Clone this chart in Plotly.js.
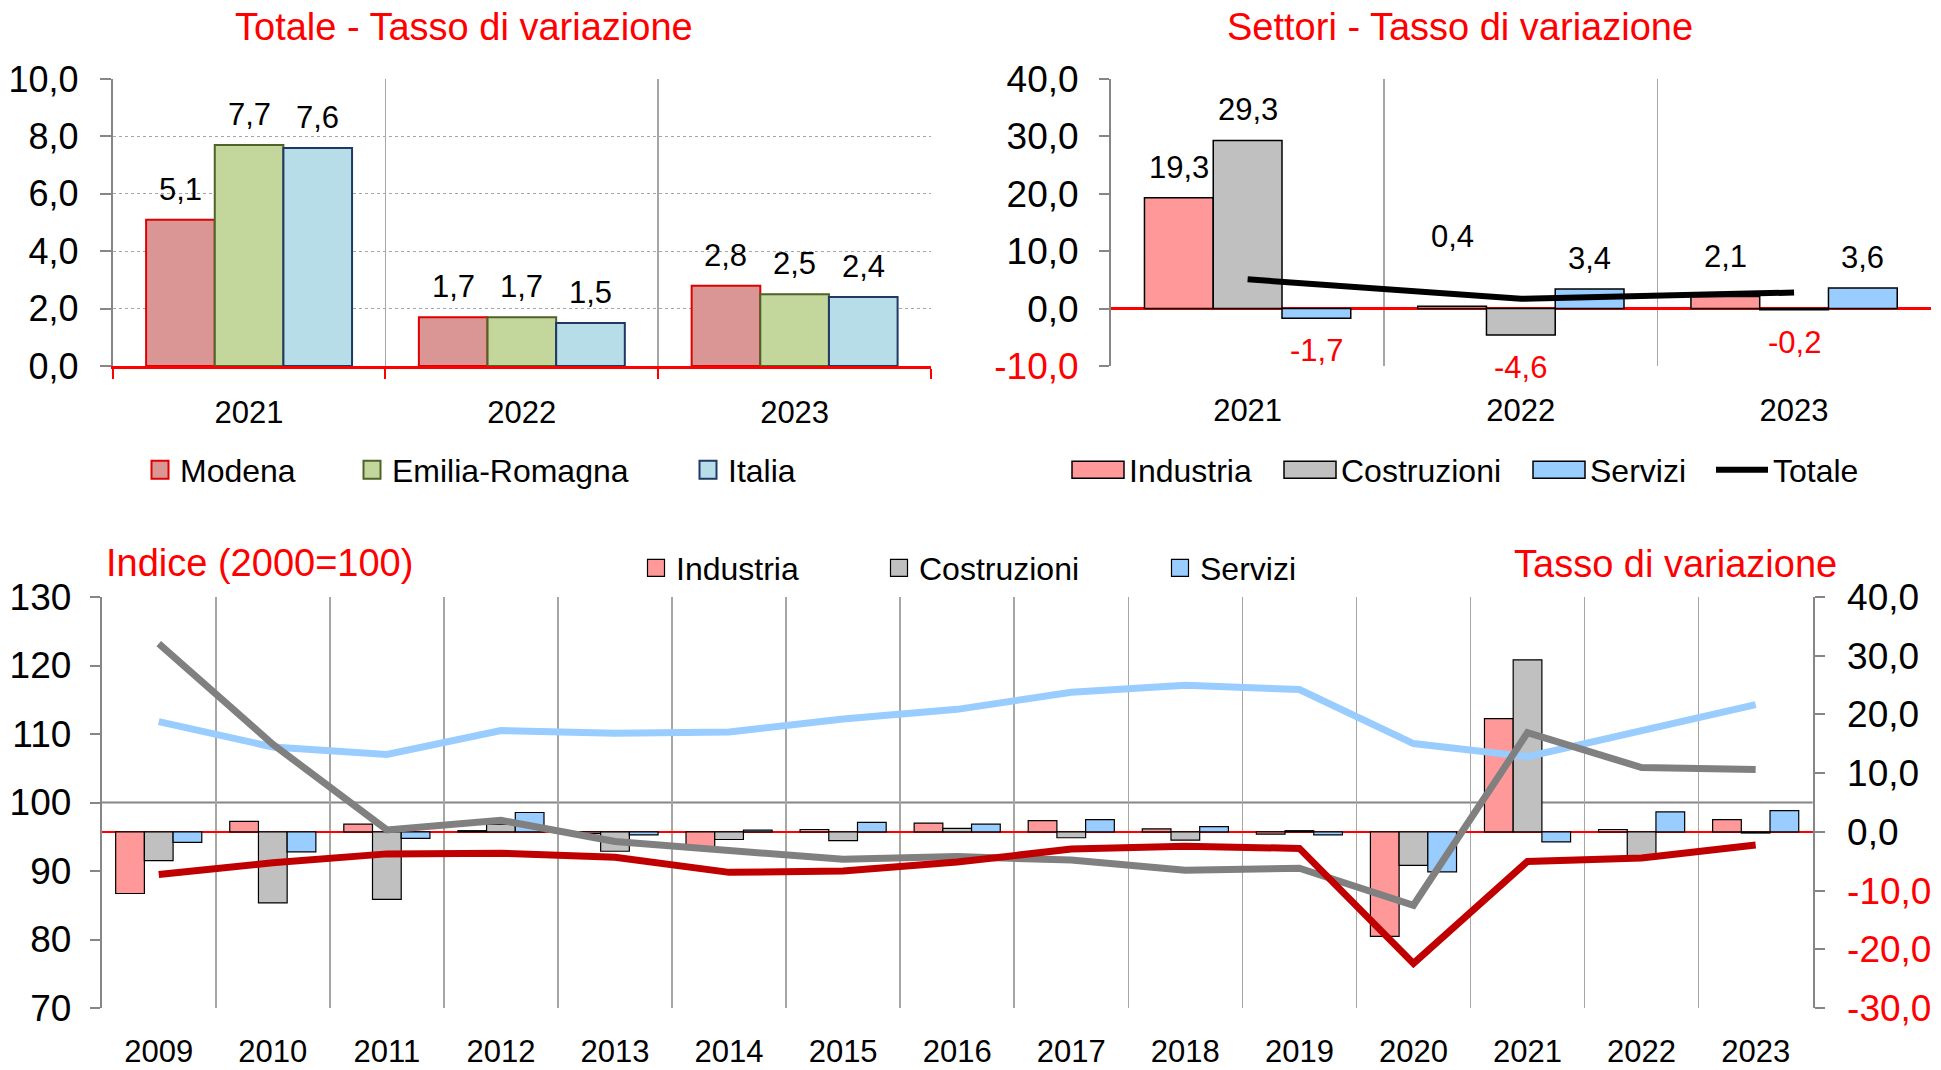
<!DOCTYPE html>
<html>
<head>
<meta charset="utf-8">
<script src="https://cdn.plot.ly/plotly-3.0.1.min.js"></script>
<style>html,body{margin:0;padding:0;background:#fff}#chart{width:1941px;height:1070px}</style>
</head>
<body>
<div id="chart"></div>
<script>
// ---------- DATA ----------
const years3 = ['2021', '2022', '2023'];
const modena = [5.1, 1.7, 2.8];
const emiliaRomagna = [7.7, 1.7, 2.5];
const italia = [7.6, 1.5, 2.4];

const sectorIndustria = [19.3, 0.4, 2.1];
const sectorCostruzioni = [29.3, -4.6, -0.2];
const sectorServizi = [-1.7, 3.4, 3.6];
const sectorTotale = [5.1, 1.7, 2.8];

const years = ['2009', '2010', '2011', '2012', '2013', '2014', '2015', '2016',
               '2017', '2018', '2019', '2020', '2021', '2022', '2023'];
const rateIndustria   = [-10.5, 1.8, 1.3, 0.2, -0.3, -2.5, 0.4, 1.5, 1.9, 0.5, -0.4, -17.8, 19.3, 0.4, 2.1];
const rateCostruzioni = [-4.9, -12.1, -11.5, 1.3, -3.3, -1.3, -1.5, 0.6, -1.0, -1.4, 0.2, -5.7, 29.3, -4.6, -0.2];
const rateServizi     = [-1.8, -3.4, -1.1, 3.3, -0.5, 0.3, 1.6, 1.3, 2.1, 0.9, -0.5, -6.8, -1.7, 3.4, 3.6];
const indexIndustria   = [89.5, 91.2, 92.5, 92.6, 92.0, 89.8, 90.0, 91.3, 93.2, 93.6, 93.3, 76.5, 91.4, 91.9, 93.8];
const indexCostruzioni = [123.2, 108.5, 96.0, 97.4, 94.3, 93.1, 91.7, 92.1, 91.6, 90.1, 90.4, 85.0, 110.2, 105.1, 104.8];
const indexServizi     = [111.8, 108.1, 107.0, 110.5, 110.1, 110.3, 112.2, 113.6, 116.1, 117.1, 116.5, 108.6, 106.7, 110.4, 114.3];

const totalTicks = [0, 2, 4, 6, 8, 10];
const sectorTicks = [-10, 0, 10, 20, 30, 40];
const rateTicks = [-30, -20, -10, 0, 10, 20, 30, 40];
const indexTicks = [70, 80, 90, 100, 110, 120, 130];
const indexBase = 100;

// ---------- STYLE / LAYOUT CONSTANTS ----------
const FONT = 'Liberation Sans, Arial, sans-serif';
const W = 1941, H = 1070;
const RED = '#FF0000';
const AXIS = '#868686';
const GRID = '#A6A6A6';
const BARGAP = 0.245;
const LEFT_PX = [112.7, 931];     // top-left plot area, px
const RIGHT_PX = [1111, 1930.7];  // top-right plot area, px
const BOTTOM_PX = [101.7, 1812.7];
const LABEL_PAD_UP = 11, LABEL_PAD_DOWN = 13;
// extra lift (px) of the Industria labels in the sector chart, moved clear of the Totale line
const industriaLabelLift = [0, 39, 10];
// legend swatch sizes [width, height] in px, per legend
const swatchSize = {
  legend: [17, 18], legend2: [17, 18], legend3: [17, 18],
  legend4: [52, 17], legend5: [52, 17], legend6: [52, 17],
  legend8: [17, 17], legend9: [17, 17], legend10: [17, 17]
};

const fx = p => p / W;
const fy = p => 1 - p / H;
const fmt = v => v.toFixed(1).replace('.', ',');
const colored = v => v < 0 ? '<span style="color:' + RED + '">' + fmt(v) + '</span>' : fmt(v);

function barTrace(name, x, y, fill, edge, edgeW, xa, ya, legend) {
  return {
    type: 'bar', name: name, x: x, y: y, xaxis: xa, yaxis: ya, legend: legend,
    marker: {color: fill, line: {color: edge, width: edgeW}},
    hoverinfo: 'x+y+name'
  };
}

// value labels placed with the axes' own scales (category index, value),
// shifted sideways onto their grouped bar
function valueLabels(cats, values, seriesIdx, nSeries, xa, ya, domainPx, lift) {
  const catW = (domainPx[1] - domainPx[0]) / cats.length;
  const barW = catW * (1 - BARGAP) / nSeries;
  const dx = (seriesIdx - (nSeries - 1) / 2) * barW;
  return values.map((v, i) => ({
    xref: xa, yref: ya, x: i, y: v, text: fmt(v), showarrow: false,
    xanchor: 'center', yanchor: v >= 0 ? 'bottom' : 'top',
    xshift: dx, yshift: v >= 0 ? LABEL_PAD_UP + (lift ? lift[i] : 0) : -LABEL_PAD_DOWN,
    font: {family: FONT, size: 31, color: v >= 0 ? '#000000' : RED}
  }));
}

const traces = [
  // Top-left: Totale
  barTrace('Modena', years3, modena, '#D99694', '#E00000', 2, 'x', 'y', 'legend'),
  barTrace('Emilia-Romagna', years3, emiliaRomagna, '#C3D69B', '#4F6228', 2, 'x', 'y', 'legend2'),
  barTrace('Italia', years3, italia, '#B7DEE8', '#1F3864', 2, 'x', 'y', 'legend3'),
  // Top-right: Settori
  barTrace('Industria', years3, sectorIndustria, '#FF9999', '#000000', 1.5, 'x2', 'y2', 'legend4'),
  barTrace('Costruzioni', years3, sectorCostruzioni, '#C0C0C0', '#000000', 1.5, 'x2', 'y2', 'legend5'),
  barTrace('Servizi', years3, sectorServizi, '#99CCFF', '#000000', 1.5, 'x2', 'y2', 'legend6'),
  {type: 'scatter', mode: 'lines', name: 'Totale', x: years3, y: sectorTotale, xaxis: 'x2', yaxis: 'y2',
   legend: 'legend7', line: {color: '#000000', width: 6}},
  // Bottom: tassi (bars, right axis)
  barTrace('Industria', years, rateIndustria, '#FF9999', '#000000', 1.2, 'x3', 'y3', 'legend8'),
  barTrace('Costruzioni', years, rateCostruzioni, '#C0C0C0', '#000000', 1.2, 'x3', 'y3', 'legend9'),
  barTrace('Servizi', years, rateServizi, '#99CCFF', '#000000', 1.2, 'x3', 'y3', 'legend10'),
  // Bottom: indici (lines, left axis)
  {type: 'scatter', mode: 'lines', name: 'Servizi (indice)', x: years, y: indexServizi, xaxis: 'x3', yaxis: 'y4',
   showlegend: false, line: {color: '#99CCFF', width: 7}},
  {type: 'scatter', mode: 'lines', name: 'Costruzioni (indice)', x: years, y: indexCostruzioni, xaxis: 'x3', yaxis: 'y4',
   showlegend: false, line: {color: '#808080', width: 7}},
  {type: 'scatter', mode: 'lines', name: 'Industria (indice)', x: years, y: indexIndustria, xaxis: 'x3', yaxis: 'y4',
   showlegend: false, line: {color: '#C00000', width: 7}}
];

// ---------- LAYOUT ----------
const tickFontY = {family: FONT, size: 37, color: '#000000'};
const tickFontX = {family: FONT, size: 31, color: '#000000'};
const topDomainY = [fy(366), fy(79)];
const botDomainY = [fy(1008), fy(597)];

function legendAt(xPx, yPx, extra) {
  return Object.assign({
    x: fx(xPx), y: fy(yPx), xanchor: 'left', yanchor: 'middle', orientation: 'h',
    font: {family: FONT, size: 32, color: '#000000'}, bgcolor: 'rgba(0,0,0,0)', borderwidth: 0
  }, extra || {});
}

const titleFont = {family: FONT, size: 38, color: RED};
const annotations = [
  {text: 'Totale - Tasso di variazione', xref: 'paper', yref: 'paper', x: fx(464), y: fy(27),
   xanchor: 'center', yanchor: 'middle', showarrow: false, font: titleFont},
  {text: 'Settori - Tasso di variazione', xref: 'paper', yref: 'paper', x: fx(1460), y: fy(27),
   xanchor: 'center', yanchor: 'middle', showarrow: false, font: titleFont},
  {text: 'Indice (2000=100)', xref: 'paper', yref: 'paper', x: fx(104), y: fy(563),
   xanchor: 'left', yanchor: 'middle', showarrow: false, font: titleFont},
  {text: 'Tasso di variazione', xref: 'paper', yref: 'paper', x: fx(1839), y: fy(564),
   xanchor: 'right', yanchor: 'middle', showarrow: false, font: titleFont}
].concat(
  valueLabels(years3, modena, 0, 3, 'x', 'y', LEFT_PX),
  valueLabels(years3, emiliaRomagna, 1, 3, 'x', 'y', LEFT_PX),
  valueLabels(years3, italia, 2, 3, 'x', 'y', LEFT_PX),
  valueLabels(years3, sectorIndustria, 0, 3, 'x2', 'y2', RIGHT_PX, industriaLabelLift),
  valueLabels(years3, sectorCostruzioni, 1, 3, 'x2', 'y2', RIGHT_PX),
  valueLabels(years3, sectorServizi, 2, 3, 'x2', 'y2', RIGHT_PX)
);

const layout = {
  width: W, height: H, autosize: false,
  margin: {l: 0, r: 0, t: 0, b: 0},
  paper_bgcolor: '#FFFFFF', plot_bgcolor: '#FFFFFF',
  font: {family: FONT, color: '#000000'},
  separators: ',.',
  barmode: 'group', bargap: BARGAP, bargroupgap: 0,
  showlegend: true,
  hovermode: false,

  xaxis: {
    domain: [fx(LEFT_PX[0]), fx(LEFT_PX[1])], anchor: 'y', type: 'category',
    categoryorder: 'array', categoryarray: years3, range: [-0.5, years3.length - 0.5],
    tickson: 'boundaries', showgrid: true, gridcolor: GRID, gridwidth: 1.5,
    ticks: 'outside', ticklen: 10, tickwidth: 2, tickcolor: RED,
    showline: true, linecolor: RED, linewidth: 2.5,
    tickfont: tickFontX, ticklabelstandoff: 17, fixedrange: true
  },
  yaxis: {
    domain: topDomainY, anchor: 'x', range: [0, 10],
    tickvals: totalTicks, ticktext: totalTicks.map(fmt),
    showgrid: true, gridcolor: GRID, griddash: 'dot', gridwidth: 1.2,
    showline: true, linecolor: AXIS, linewidth: 2,
    ticks: 'outside', ticklen: 11, tickwidth: 2, tickcolor: AXIS,
    zeroline: false, tickfont: {family: FONT, size: 36, color: '#000000'}, ticklabelstandoff: 14, fixedrange: true
  },

  xaxis2: {
    domain: [fx(RIGHT_PX[0]), fx(RIGHT_PX[1])], anchor: 'y2', type: 'category',
    categoryorder: 'array', categoryarray: years3, range: [-0.5, years3.length - 0.5],
    tickson: 'boundaries', showgrid: true, gridcolor: GRID, gridwidth: 1.5,
    ticks: '', showline: false,
    tickfont: tickFontX, ticklabelstandoff: 23, fixedrange: true
  },
  yaxis2: {
    domain: topDomainY, anchor: 'x2', range: [-10, 40],
    tickvals: sectorTicks, ticktext: sectorTicks.map(colored),
    showgrid: false, showline: true, linecolor: AXIS, linewidth: 2,
    ticks: 'outside', ticklen: 10, tickwidth: 2, tickcolor: AXIS,
    zeroline: true, zerolinecolor: RED, zerolinewidth: 2.5,
    tickfont: tickFontY, ticklabelstandoff: 13, fixedrange: true
  },

  xaxis3: {
    domain: [fx(BOTTOM_PX[0]), fx(BOTTOM_PX[1])], anchor: 'y3', type: 'category',
    tickson: 'boundaries', showgrid: true, gridcolor: GRID, gridwidth: 1.5,
    ticks: '', showline: false,
    tickfont: tickFontX, ticklabelstandoff: 22, fixedrange: true
  },
  yaxis3: {
    domain: botDomainY, anchor: 'x3', side: 'right', range: [-30, 40],
    tickvals: rateTicks, ticktext: rateTicks.map(colored),
    showgrid: false, showline: true, linecolor: AXIS, linewidth: 2,
    ticks: 'outside', ticklen: 10, tickwidth: 2, tickcolor: AXIS,
    zeroline: true, zerolinecolor: RED, zerolinewidth: 2,
    tickfont: tickFontY, ticklabelstandoff: 15, fixedrange: true
  },
  yaxis4: {
    overlaying: 'y3', anchor: 'x3', side: 'left', range: [70, 130],
    tickvals: indexTicks, ticktext: indexTicks.map(String),
    showgrid: false, showline: true, linecolor: AXIS, linewidth: 2,
    ticks: 'outside', ticklen: 10, tickwidth: 2, tickcolor: AXIS,
    zeroline: false, tickfont: tickFontY, ticklabelstandoff: 11, fixedrange: true
  },

  shapes: [
    {type: 'line', xref: 'x3 domain', yref: 'y4', x0: 0, x1: 1, y0: indexBase, y1: indexBase,
     line: {color: AXIS, width: 2}, layer: 'below'}
  ],

  annotations: annotations,

  legend:   legendAt(140, 470),
  legend2:  legendAt(352, 470),
  legend3:  legendAt(688, 470),
  legend4:  legendAt(1067, 470, {itemwidth: 52}),
  legend5:  legendAt(1279, 470, {itemwidth: 52}),
  legend6:  legendAt(1528, 470, {itemwidth: 52}),
  legend7:  legendAt(1711, 470, {itemwidth: 52}),
  legend8:  legendAt(636, 568),
  legend9:  legendAt(879, 568),
  legend10: legendAt(1160, 568)
};

// enlarge the legend swatches of the bar series to the reference's box sizes
function enlargeSwatches(gd) {
  try {
    gd.querySelectorAll('g.traces').forEach(function (item) {
      const d = item.__data__;
      const tr = d && d[0] && d[0].trace;
      if (!tr || tr.type !== 'bar') return;
      const size = swatchSize[tr.legend || 'legend'];
      if (!size) return;
      const hw = size[0] / 2, hh = size[1] / 2;
      item.querySelectorAll('g.legendpoints path').forEach(function (p) {
        p.setAttribute('d', 'M' + hw + ',' + hh + 'H' + (-hw) + 'V' + (-hh) + 'H' + hw + 'Z');
      });
    });
  } catch (e) { /* keep default swatches */ }
}

Plotly.newPlot('chart', traces, layout, {staticPlot: true, displayModeBar: false})
  .then(enlargeSwatches);
</script>
</body>
</html>
